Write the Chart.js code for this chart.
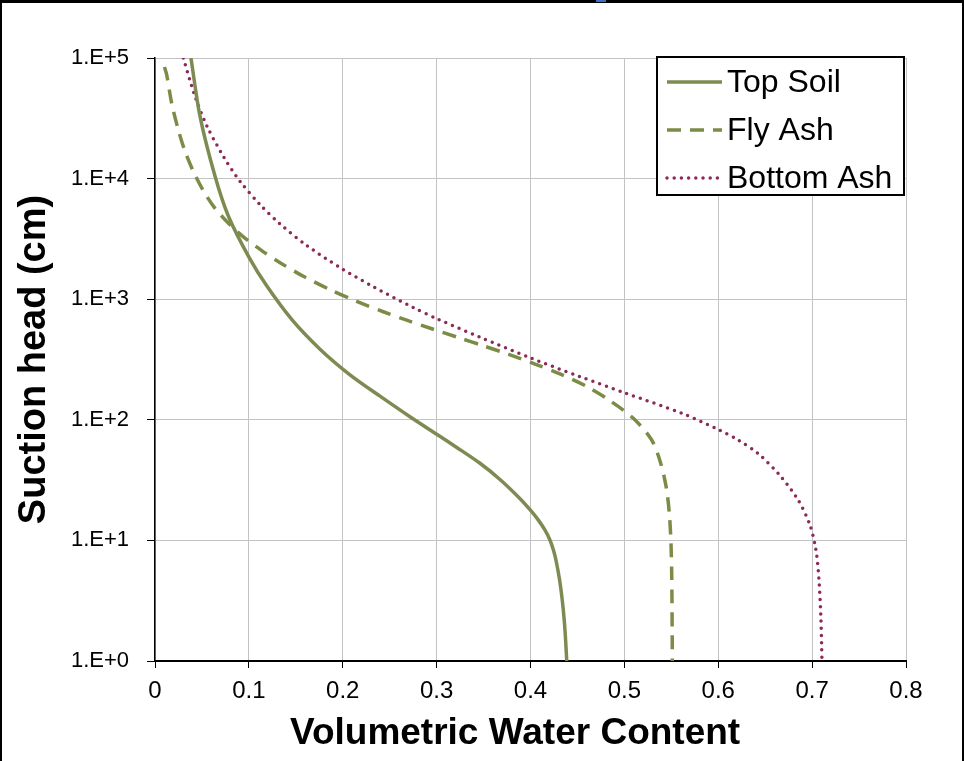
<!DOCTYPE html>
<html>
<head>
<meta charset="utf-8">
<script src="https://cdn.jsdelivr.net/npm/chart.js@4.4.0/dist/chart.umd.min.js"></script>
<style>
  html, body { margin: 0; padding: 0; background: #fff; }
  canvas { display: block; }
</style>
</head>
<body>
<canvas id="swcc" width="964" height="761"></canvas>
<script>
// soil water characteristic curves - suction head vs volumetric water content

const seriesNames = ['Top Soil', 'Fly Ash', 'Bottom Ash'];

const topSoilTheta = [0.0383, 0.0479, 0.0639, 0.0781, 0.1005, 0.119, 0.1456, 0.1758, 0.2077, 0.2397, 0.2716, 0.3001, 0.3214, 0.3462, 0.3675, 0.3881, 0.3997, 0.4082, 0.4153, 0.4207, 0.4244, 0.4271, 0.4310, 0.4338, 0.4359, 0.4374, 0.4386];
const topSoilHead  = [100000, 33000, 10500, 4900, 2200, 1290, 680, 385, 236, 157, 106, 75.9, 59, 43.6, 32.0, 22.5, 17.9, 14.8, 12.2, 10.07, 8.32, 6.88, 4.70, 3.21, 2.19, 1.49, 1];

const flyAshTheta = [0.0101, 0.0125, 0.0178, 0.0248, 0.032, 0.0408, 0.0515, 0.0639, 0.0799, 0.0941, 0.1137, 0.135, 0.158, 0.1864, 0.2149, 0.2432, 0.2681, 0.2948, 0.3214, 0.3497, 0.3782, 0.4048, 0.4314, 0.4599, 0.4847, 0.5095, 0.5291, 0.5387, 0.5449, 0.5481, 0.5497, 0.5504, 0.5507, 0.5509, 0.5511];
const flyAshHead  = [84100, 72300, 42000, 25400, 16800, 11500, 7940, 5670, 4140, 3290, 2530, 1970, 1550, 1200, 959, 787, 670, 569, 486, 411, 346, 290, 240, 189, 144, 103, 68, 43.6, 26.7, 15.9, 9.2, 5.4, 3.2, 1.8, 1];

const bottomAshTheta = [0.0301, 0.0426, 0.0551, 0.0728, 0.0905, 0.1119, 0.1332, 0.1616, 0.1971, 0.2325, 0.2752, 0.3001, 0.3462, 0.3995, 0.4527, 0.4989, 0.5628, 0.6001, 0.6214, 0.6427, 0.6658, 0.6850, 0.6977, 0.7041, 0.7073, 0.7094, 0.7105];
const bottomAshHead  = [100000, 48100, 27500, 15300, 9510, 6080, 4200, 2790, 1830, 1270, 851, 690, 484, 327, 228, 169, 112, 83, 67.8, 52.3, 34.5, 21.7, 13.4, 8.3, 4.7, 2.19, 1];

const xTicks = [0, 0.1, 0.2, 0.3, 0.4, 0.5, 0.6, 0.7, 0.8];
const xTickLabels = ['0', '0.1', '0.2', '0.3', '0.4', '0.5', '0.6', '0.7', '0.8'];
const yTicks = [1, 10, 100, 1000, 10000, 100000];
const yTickLabels = ['1.E+0', '1.E+1', '1.E+2', '1.E+3', '1.E+4', '1.E+5'];

const FONT = "'Liberation Sans', Arial, sans-serif";

function toPoints(xs, ys) {
  return xs.map((x, i) => ({ x: x, y: ys[i] }));
}

// white page with the black frame of the original figure
const framePlugin = {
  id: 'frame',
  beforeDraw(chart) {
    const c = chart.ctx;
    c.save();
    c.fillStyle = '#fff';
    c.fillRect(0, 0, chart.width, chart.height);
    c.fillStyle = '#000';
    c.fillRect(0, 0, chart.width, 3);
    c.fillRect(0, 0, 2, chart.height);
    c.fillRect(chart.width - 2, 0, 2, chart.height);
    c.fillStyle = '#3f6fc4';
    c.fillRect(596, 0, 10, 2);
    c.restore();
  }
};

// legend box sitting inside the plot, top right
const insideLegend = {
  id: 'insideLegend',
  afterDraw(chart) {
    const c = chart.ctx;
    const area = chart.chartArea;
    const boxR = area.right - 2, boxT = area.top - 1;
    const boxL = boxR - 247, boxB = boxT + 138;
    c.save();
    c.fillStyle = '#fff';
    c.fillRect(boxL, boxT, boxR - boxL, boxB - boxT);
    c.strokeStyle = '#000';
    c.lineWidth = 2;
    c.strokeRect(boxL, boxT, boxR - boxL, boxB - boxT);
    c.font = '32px ' + FONT;
    c.textBaseline = 'middle';
    chart.data.datasets.forEach((ds, i) => {
      const y = boxT + 25 + i * 48;
      c.beginPath();
      c.strokeStyle = ds.borderColor;
      c.lineWidth = ds.borderWidth;
      c.lineCap = ds.borderCapStyle || 'butt';
      c.setLineDash(ds.borderDash || []);
      c.moveTo(boxL + 10, y);
      c.lineTo(boxL + 65, y);
      c.stroke();
      c.setLineDash([]);
      c.fillStyle = '#000';
      c.fillText(ds.label, boxL + 70, y + 1);
    });
    c.restore();
  }
};

new Chart(document.getElementById('swcc'), {
  type: 'scatter',
  data: {
    datasets: [
      {
        label: seriesNames[0],
        data: toPoints(topSoilTheta, topSoilHead),
        borderColor: '#7d8b52',
        borderWidth: 3.5,
        showLine: true,
        pointRadius: 0,
        tension: 0.3
      },
      {
        label: seriesNames[1],
        data: toPoints(flyAshTheta, flyAshHead),
        borderColor: '#7b8c47',
        borderWidth: 3.5,
        borderDash: [14, 9],
        showLine: true,
        pointRadius: 0,
        tension: 0.3
      },
      {
        label: seriesNames[2],
        data: toPoints(bottomAshTheta, bottomAshHead),
        borderColor: '#8b2a57',
        borderWidth: 3.5,
        borderDash: [0, 7.2],
        borderCapStyle: 'round',
        showLine: true,
        pointRadius: 0,
        tension: 0.3
      }
    ]
  },
  options: {
    responsive: false,
    animation: false,
    devicePixelRatio: 1,
    layout: { padding: { top: 58, right: 58, left: 0, bottom: 0 } },
    plugins: {
      legend: { display: false },
      tooltip: { enabled: false }
    },
    scales: {
      x: {
        type: 'linear',
        min: 0,
        max: 0.8,
        afterFit(scale) { scale.height = 100; },
        afterBuildTicks(scale) { scale.ticks = xTicks.map(v => ({ value: v })); },
        ticks: {
          color: '#000',
          font: { family: FONT, size: 24 },
          padding: 9,
          maxRotation: 0,
          callback: (v) => xTickLabels[xTicks.indexOf(v)]
        },
        grid: { color: '#c3c3c3', lineWidth: 1, tickLength: 7, tickColor: '#000' },
        border: { color: '#000', width: 2 },
        title: {
          display: true,
          // trailing spaces nudge the centred title left, as in the original
          text: 'Volumetric Water Content\u00a0\u00a0\u00a0',
          color: '#000',
          font: { family: FONT, size: 37, weight: 'bold', lineHeight: 1.2 },
          padding: { top: 0, bottom: 5 }
        }
      },
      y: {
        type: 'logarithmic',
        min: 1,
        max: 100000,
        afterFit(scale) { scale.width = 155; },
        afterBuildTicks(scale) { scale.ticks = yTicks.map(v => ({ value: v })); },
        ticks: {
          color: '#000',
          font: { family: FONT, size: 22 },
          padding: 18,
          callback: (v) => yTickLabels[yTicks.indexOf(v)]
        },
        grid: { color: '#c3c3c3', lineWidth: 1, tickLength: 8, tickColor: '#000' },
        border: { color: '#000', width: 1.5 },
        title: {
          display: true,
          text: 'Suction head (cm)',
          color: '#000',
          font: { family: FONT, size: 38, weight: 'bold', lineHeight: 1.2 },
          padding: { top: 12, bottom: 0 }
        }
      }
    }
  },
  plugins: [framePlugin, insideLegend]
});
</script>
</body>
</html>
